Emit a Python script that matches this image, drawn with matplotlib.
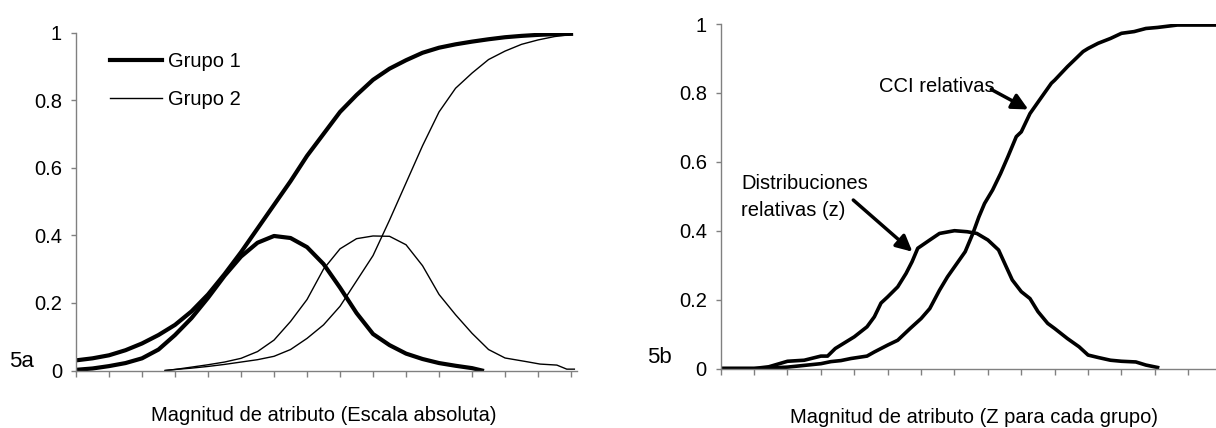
import matplotlib

matplotlib.use("Agg")
import matplotlib.pyplot as plt
import numpy as np

plt.rcParams["font.family"] = ["Liberation Sans", "DejaVu Sans"]
FS = 14.5

# ---- 5a: absolute scale (x in tick units) ----
g1_cci_x = [0, 0.5, 1, 1.5, 2, 2.5, 3, 3.5, 4, 4.5, 5, 5.5, 6, 6.5, 7, 7.5, 8,
            8.5, 9, 9.5, 10, 10.5, 11, 11.5, 12, 12.5, 13, 13.5, 14, 14.5, 15]
g1_cci_y = [0.030, 0.036, 0.045, 0.060, 0.080, 0.105, 0.135, 0.175, 0.225,
            0.285, 0.350, 0.420, 0.490, 0.560, 0.635, 0.700, 0.765, 0.815,
            0.860, 0.893, 0.918, 0.940, 0.955, 0.965, 0.973, 0.980, 0.986,
            0.990, 0.993, 0.995, 0.996]

g1_pdf_x = [0, 0.5, 1, 1.5, 2, 2.5, 3, 3.5, 4, 4.5, 5, 5.5, 6, 6.5, 7, 7.5, 8,
            8.5, 9, 9.5, 10, 10.5, 11, 11.5, 12, 12.3]
g1_pdf_y = [0.002, 0.006, 0.013, 0.022, 0.036, 0.062, 0.105, 0.155, 0.215,
            0.280, 0.337, 0.378, 0.398, 0.392, 0.365, 0.315, 0.245, 0.170,
            0.108, 0.075, 0.050, 0.034, 0.022, 0.014, 0.007, 0.0]

g2_cci_x = [2.7, 3, 3.5, 4, 4.5, 5, 5.5, 6, 6.5, 7, 7.5, 8, 8.5, 9, 9.5, 10,
            10.5, 11, 11.5, 12, 12.5, 13, 13.5, 14, 14.5, 15]
g2_cci_y = [0.0, 0.003, 0.007, 0.012, 0.018, 0.025, 0.032, 0.042, 0.062,
            0.095, 0.135, 0.190, 0.265, 0.340, 0.445, 0.555, 0.665, 0.765,
            0.835, 0.880, 0.920, 0.945, 0.965, 0.978, 0.988, 0.994]

g2_pdf_x = [2.7, 3, 3.5, 4, 4.5, 5, 5.5, 6, 6.5, 7, 7.5, 8, 8.5, 9, 9.5, 10,
            10.5, 11, 11.5, 12, 12.5, 13, 13.66, 14.06, 14.57, 14.87, 15.1]
g2_pdf_y = [0.0, 0.003, 0.010, 0.017, 0.025, 0.036, 0.056, 0.090, 0.145,
            0.210, 0.300, 0.360, 0.390, 0.398, 0.397, 0.372, 0.310, 0.225,
            0.165, 0.110, 0.062, 0.037, 0.026, 0.019, 0.016, 0.004, 0.004]

# ---- 5b: z scale per group ----
rel_pdf_x = [0, 1.0, 1.44, 2.0, 2.5, 3.0, 3.2, 3.43, 4.0, 4.38, 4.6, 4.8, 5.0,
             5.3, 5.55, 5.73, 5.9, 6.26, 6.55, 7.0, 7.38, 7.67, 8.0, 8.32,
             8.55, 8.73, 9.0, 9.26, 9.5, 9.79, 10.0, 10.38, 10.73, 11.0, 11.3,
             11.67, 12.0, 12.43, 12.73, 13.08]
rel_pdf_y = [0, 0, 0.005, 0.021, 0.024, 0.036, 0.036, 0.058, 0.092, 0.121,
             0.150, 0.190, 0.208, 0.237, 0.276, 0.310, 0.349, 0.373, 0.392,
             0.400, 0.397, 0.392, 0.373, 0.344, 0.295, 0.257, 0.223, 0.203,
             0.165, 0.131, 0.116, 0.087, 0.063, 0.039, 0.032, 0.024, 0.021,
             0.019, 0.010, 0.003]

rel_cci_x = [0, 1.2, 2.0, 2.5, 3.0, 3.3, 3.6, 3.9, 4.38, 4.6, 5.0, 5.3, 5.67,
             6.0, 6.26, 6.55, 6.79, 7.0, 7.32, 7.55, 7.73, 7.9, 8.14, 8.38,
             8.6, 8.85, 9.0, 9.26, 9.55, 9.9, 10.0, 10.38, 10.85, 11.0, 11.3,
             11.67, 12.0, 12.38, 12.73, 13.08, 13.67, 14.5, 15.18]
rel_cci_y = [0, 0, 0.004, 0.009, 0.014, 0.020, 0.023, 0.029, 0.036, 0.048,
             0.068, 0.082, 0.116, 0.145, 0.174, 0.227, 0.266, 0.295, 0.339,
             0.392, 0.440, 0.479, 0.518, 0.566, 0.615, 0.673, 0.687, 0.740,
             0.780, 0.828, 0.837, 0.876, 0.920, 0.929, 0.944, 0.958, 0.973,
             0.978, 0.987, 0.990, 0.997, 0.997, 0.997]

y_ticks = [0, 0.2, 0.4, 0.6, 0.8, 1]
y_labels = ["0", "0.2", "0.4", "0.6", "0.8", "1"]
AXIS_GRAY = "#808080"


def style_axes(ax):
    for side in ("top", "right"):
        ax.spines[side].set_visible(False)
    for side in ("left", "bottom"):
        ax.spines[side].set_color(AXIS_GRAY)
        ax.spines[side].set_linewidth(1.0)
    ax.set_xlim(0, 15.18)
    ax.set_ylim(0, 1)
    ax.set_xticks(np.arange(0, 16))
    ax.set_yticks(y_ticks)
    ax.set_yticklabels(y_labels)
    ax.tick_params(axis="x", direction="out", length=4.3, width=1.0,
                   color=AXIS_GRAY, labelbottom=False)
    ax.tick_params(axis="y", direction="out", length=3.5, width=1.0,
                   color=AXIS_GRAY, pad=6.5, labelsize=FS)


fig = plt.figure(figsize=(12.16, 4.28), dpi=100)

ax1 = fig.add_axes([76 / 1216, 57.5 / 428, 501 / 1216, 338 / 428])
style_axes(ax1)
ax1.plot(g1_cci_x, g1_cci_y, color="black", lw=3.0, solid_joinstyle="round")
ax1.plot(g1_pdf_x, g1_pdf_y, color="black", lw=3.0, solid_joinstyle="round",
         label="Grupo 1")
ax1.plot(g2_cci_x, g2_cci_y, color="black", lw=1.0)
ax1.plot(g2_pdf_x, g2_pdf_y, color="black", lw=1.0, label="Grupo 2")
ax1.legend(loc="upper left", bbox_to_anchor=(0.068, 0.942), frameon=False,
           borderpad=0, borderaxespad=0, handlelength=2.6, handletextpad=0.3,
           labelspacing=0.96, fontsize=FS)

ax2 = fig.add_axes([720.7 / 1216, 59.5 / 428, 507 / 1216, 344.5 / 428])
style_axes(ax2)
ax2.plot(rel_cci_x, rel_cci_y, color="black", lw=2.6, solid_joinstyle="round")
ax2.plot(rel_pdf_x, rel_pdf_y, color="black", lw=2.6, solid_joinstyle="round")

arrow = dict(arrowstyle="-|>", lw=2.5, color="black", mutation_scale=24,
             shrinkA=0, shrinkB=0)
ax2.text(4.74, 0.819, "CCI relativas", fontsize=FS, ha="left", va="center")
ax2.annotate("", xy=(9.21, 0.752), xytext=(8.1, 0.81), arrowprops=arrow)
ax2.text(0.62, 0.497, "Distribuciones\nrelativas (z)", fontsize=FS,
         ha="left", va="center", linespacing=1.55)
ax2.annotate("", xy=(5.74, 0.339), xytext=(3.97, 0.489), arrowprops=arrow)

fig.text(9.3 / 1216, 61.3 / 428, "5a", fontsize=16, va="baseline")
fig.text(647 / 1216, 64.7 / 428, "5b", fontsize=16, va="baseline")
fig.text(324 / 1216, 7 / 428, "Magnitud de atributo (Escala absoluta)",
         fontsize=FS, ha="center", va="baseline")
fig.text(974 / 1216, 5.3 / 428, "Magnitud de atributo (Z para cada grupo)",
         fontsize=FS, ha="center", va="baseline")

fig.savefig("out.png", dpi=100)
plt.close(fig)
